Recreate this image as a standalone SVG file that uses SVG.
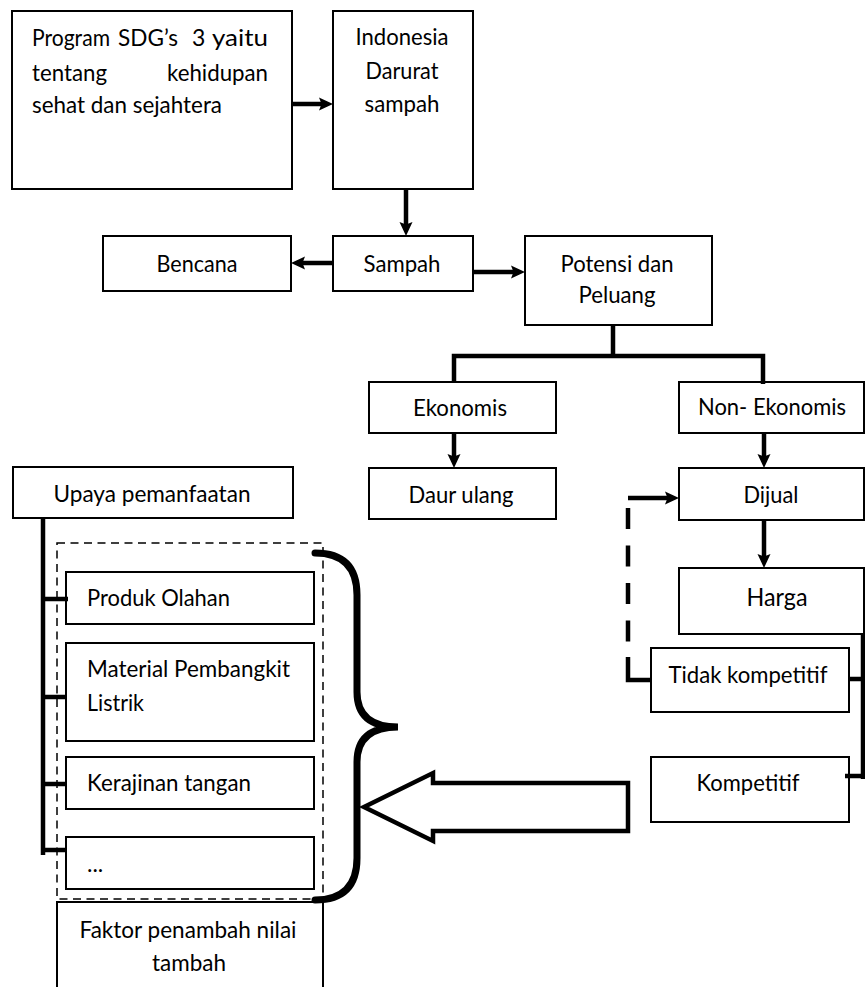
<svg xmlns="http://www.w3.org/2000/svg" width="865" height="987" viewBox="0 0 865 987">
<style>
.box{fill:#fff;stroke:#000;stroke-width:2}
.ibox{fill:#fff;stroke:#000;stroke-width:2}
.dbox{fill:none;stroke:#000;stroke-width:1.5;stroke-dasharray:8 5.5}
.t{font-family:Lato,"Liberation Sans",sans-serif;font-size:23px;fill:#000}
.c{text-anchor:middle}
.con{fill:none;stroke:#000;stroke-width:4.5}
.arr{fill:none;stroke:#000;stroke-width:4.5;marker-end:url(#ah)}
</style>
<defs>
<marker id="ah" markerUnits="userSpaceOnUse" markerWidth="16" markerHeight="16" viewBox="0 -8 16 16" refX="8" refY="0" orient="auto">
<path d="M0,-6.5 L14,0 L0,6.5 L2.5,0 Z" fill="#000"/>
</marker>
</defs>
<rect width="865" height="987" fill="#fff"/>

<g id="program">
<rect class="box" x="12" y="11" width="280" height="178"/>
<text class="t" y="46"><tspan x="32" textLength="78" lengthAdjust="spacingAndGlyphs">Program</tspan> <tspan x="118" textLength="60" lengthAdjust="spacingAndGlyphs">SDG’s</tspan> <tspan x="192">3</tspan> <tspan x="212" textLength="56" lengthAdjust="spacingAndGlyphs">yaitu</tspan></text>
<text class="t" y="81"><tspan x="32" textLength="75" lengthAdjust="spacingAndGlyphs">tentang</tspan> <tspan x="167" textLength="101" lengthAdjust="spacingAndGlyphs">kehidupan</tspan></text>
<text class="t" x="32" y="113" textLength="190" lengthAdjust="spacingAndGlyphs">sehat dan sejahtera</text>
</g>
<g id="indonesia">
<rect class="box" x="333" y="11" width="140" height="178"/>
<text class="t c" x="402" y="45" textLength="93" lengthAdjust="spacingAndGlyphs">Indonesia</text>
<text class="t c" x="402" y="79" textLength="73" lengthAdjust="spacingAndGlyphs">Darurat</text>
<text class="t c" x="402" y="112" textLength="75" lengthAdjust="spacingAndGlyphs">sampah</text>
</g>
<g id="bencana">
<rect class="box" x="103" y="236" width="188" height="55"/>
<text class="t c" x="197" y="272" textLength="81" lengthAdjust="spacingAndGlyphs">Bencana</text>
</g>
<g id="sampah">
<rect class="box" x="333" y="236" width="140" height="55"/>
<text class="t c" x="402" y="272" textLength="77" lengthAdjust="spacingAndGlyphs">Sampah</text>
</g>
<g id="potensi">
<rect class="box" x="525" y="236" width="187" height="89"/>
<text class="t c" x="617" y="272" textLength="113" lengthAdjust="spacingAndGlyphs">Potensi dan</text>
<text class="t c" x="617" y="303" textLength="77" lengthAdjust="spacingAndGlyphs">Peluang</text>
</g>
<g id="ekonomis">
<rect class="box" x="369" y="382" width="187" height="51"/>
<text class="t c" x="460" y="416" textLength="94" lengthAdjust="spacingAndGlyphs">Ekonomis</text>
</g>
<g id="non-ekonomis">
<rect class="box" x="679" y="382" width="185" height="51"/>
<text class="t c" x="772" y="415" textLength="148" lengthAdjust="spacingAndGlyphs">Non- Ekonomis</text>
</g>
<g id="daur-ulang">
<rect class="box" x="369" y="468" width="187" height="51"/>
<text class="t c" x="461" y="503" textLength="105" lengthAdjust="spacingAndGlyphs">Daur ulang</text>
</g>
<g id="dijual">
<rect class="box" x="679" y="468" width="185" height="52"/>
<text class="t c" x="771" y="503" textLength="55" lengthAdjust="spacingAndGlyphs">Dijual</text>
</g>
<g id="upaya">
<rect class="box" x="13" y="467" width="280" height="51"/>
<text class="t c" x="152" y="502" textLength="197" lengthAdjust="spacingAndGlyphs">Upaya pemanfaatan</text>
</g>
<g id="harga">
<rect class="box" x="679" y="568" width="185" height="66"/>
<text class="t c" x="777" y="606" style="font-size:25px" textLength="61" lengthAdjust="spacingAndGlyphs">Harga</text>
</g>
<g id="tidak-kompetitif">
<rect class="box" x="651" y="648" width="198" height="64"/>
<text class="t c" x="748" y="683" textLength="159" lengthAdjust="spacingAndGlyphs">Tidak kompetitif</text>
</g>
<g id="kompetitif">
<rect class="box" x="651" y="757" width="198" height="65"/>
<text class="t c" x="748" y="791" textLength="103" lengthAdjust="spacingAndGlyphs">Kompetitif</text>
</g>
<g id="kelompok-produk">
<rect class="dbox" x="57" y="543" width="266" height="356"/>
</g>
<g id="produk-olahan">
<rect class="ibox" x="66" y="572" width="248" height="52"/>
<text class="t" x="87" y="606" textLength="143" lengthAdjust="spacingAndGlyphs">Produk Olahan</text>
</g>
<g id="material">
<rect class="ibox" x="66" y="643" width="248" height="98"/>
<text class="t" x="87" y="677" textLength="203" lengthAdjust="spacingAndGlyphs">Material Pembangkit</text>
<text class="t" x="87" y="711" textLength="57" lengthAdjust="spacingAndGlyphs">Listrik</text>
</g>
<g id="kerajinan">
<rect class="ibox" x="66" y="757" width="248" height="52"/>
<text class="t" x="87" y="791" textLength="164" lengthAdjust="spacingAndGlyphs">Kerajinan tangan</text>
</g>
<g id="lainnya">
<rect class="ibox" x="66" y="837" width="248" height="52"/>
<text class="t" x="87" y="872">...</text>
</g>
<g id="faktor">
<rect class="box" x="57" y="902" width="266" height="100"/>
<text class="t c" x="188" y="938" textLength="217" lengthAdjust="spacingAndGlyphs">Faktor penambah nilai</text>
<text class="t c" x="189" y="971" textLength="74" lengthAdjust="spacingAndGlyphs">tambah</text>
</g>

<g id="connectors">
<path class="arr" d="M292,104 H327"/>
<path class="arr" d="M406,189 V230"/>
<path class="arr" d="M333,263 H297"/>
<path class="arr" d="M473,272 H519"/>
<path class="con" d="M613,325 V356 M454,383 V356 H763 V384"/>
<path class="arr" d="M454,433 V462"/>
<path class="arr" d="M764,433 V462"/>
<path class="arr" d="M764,520 V562"/>
<path class="con" d="M863,634 V779 M848,679 H863 M845,776 H863"/>
<path class="arr" d="M628,498 H673"/>
<path class="con" d="M628,508 V642" style="stroke-dasharray:21 16.5"/>
<path class="con" d="M651,680 H628 V657"/>
<path class="con" d="M43,518 V855 M43,599 H68 M43,697 H66 M43,784 H66 M43,850 H66"/>
<path d="M315,553 Q357,553 357,595 V692 Q357,727 398,727 Q357,727 357,762 V858 Q357,900 315,900" fill="none" stroke="#000" stroke-width="7" stroke-linecap="round"/>
<path d="M628,783 H433 V773 L364,807 L433,841 V831 H628 Z" fill="#fff" stroke="#000" stroke-width="4.5" stroke-linejoin="miter"/>
</g>
</svg>
